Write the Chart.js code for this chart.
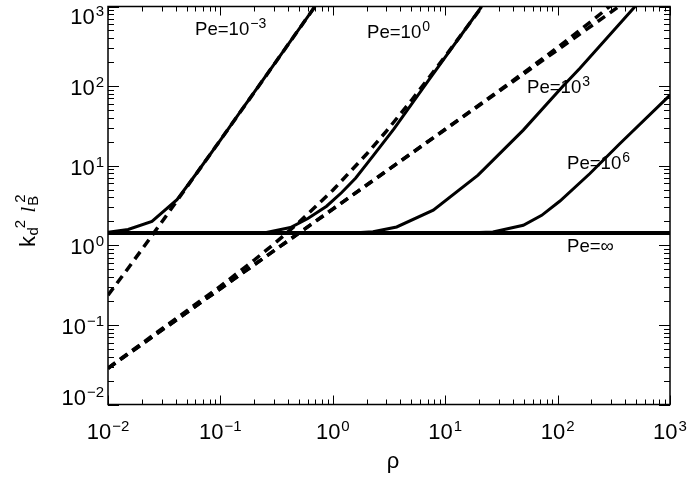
<!DOCTYPE html>
<html lang="en">
<head>
  <meta charset="UTF-8">
  <title>k_d^2 l_B^2 vs rho</title>
  <script src="https://cdn.jsdelivr.net/npm/chart.js"></script>
  <style>body{margin:0;background:#fff}</style>
</head>
<body>
  <canvas id="grafico" width="691" height="478"></canvas>

  <script>
    // values (rho, k_d^2 l_B^2)
    const rhoInf = [0.01, 1000];
    const kInf = [1.43, 1.43];

    const rhoPeM3 = [0.01, 0.0151, 0.0246, 0.0411, 0.06, 0.1, 0.149, 0.3, 0.695];
    const kPeM3 = [1.457, 1.58, 2.0, 3.75, 7.7, 21.0, 46.7, 187, 1000];

    const rhoPe0 = [0.01, 0.25, 0.42, 0.6, 0.88, 1.2, 1.6, 2.3, 3.5, 6.8, 21.1];
    const kPe0 = [1.43, 1.44, 1.67, 2.17, 3.1, 4.6, 7.0, 13.5, 29, 108, 1000];

    const rhoPe3 = [0.01, 1.5, 2.28, 3.7, 7.83, 19.6, 49.5, 114, 158, 489];
    const kPe3 = [1.43, 1.43, 1.48, 1.70, 2.76, 7.6, 28, 103, 168, 1000];

    const rhoPe6 = [0.01, 15, 26.6, 49.5, 72.2, 105, 194, 359, 1000];
    const kPe6 = [1.43, 1.43, 1.47, 1.785, 2.38, 3.6, 7.98, 19.0, 77.1];

    // dashed asymptotes
    const rhoAsM3 = [0.01, 0.015, 0.02, 0.03, 0.1, 0.3, 1];
    const kAsM3 = [0.2355, 0.508, 0.885, 1.95, 21.0, 187, 2073];

    const rhoAs0 = [0.01, 0.1, 0.2, 0.3, 0.5, 1, 2, 3, 5, 10, 20, 30];
    const kAs0 = [0.0287, 0.306, 0.653, 1.04, 1.94, 4.92, 14.0, 27.2, 66.0, 236, 885, 1950];

    const rhoAs3 = [0.01, 1, 10, 30, 50, 100, 200, 300];
    const kAs3 = [0.0285, 2.85, 28.7, 87.4, 147.7, 306, 653, 1041];

    const rhoAs6 = [0.01, 1000];
    const kAs6 = [0.0285, 2852];

    // axis decades
    const xTickExp = [-2, -1, 0, 1, 2, 3];
    const yTickExp = [-2, -1, 0, 1, 2, 3];

    // curve labels: text, exponent
    const curveNames = ['Pe=10', 'Pe=10', 'Pe=10', 'Pe=10', 'Pe=\u221E'];
    const curveExps = ['\u22123', '0', '3', '6', ''];

    const pts = (xs, ys) => xs.map((v, i) => ({ x: v, y: ys[i] }));

    const solid = (xs, ys, w) => ({
      data: pts(xs, ys), showLine: true, borderColor: '#000', borderWidth: w,
      pointRadius: 0, fill: false, tension: 0
    });
    const dashed = (xs, ys) => ({
      data: pts(xs, ys), showLine: true, borderColor: '#000', borderWidth: 3.5,
      borderDash: [9, 6], pointRadius: 0, fill: false, tension: 0
    });

    const FONT = '"Liberation Sans", Arial, sans-serif';

    // draws "10" + superscript; returns nothing
    function drawPow(ctx, base, exp, xpos, baseline, align, size, supSize, raise) {
      ctx.font = size + 'px ' + FONT;
      const wb = ctx.measureText(base).width;
      ctx.font = supSize + 'px ' + FONT;
      const we = exp ? ctx.measureText(exp).width + 1 : 0;
      const total = wb + we;
      let x0 = xpos;
      if (align === 'center') x0 = xpos - total / 2;
      if (align === 'right') x0 = xpos - total;
      ctx.textAlign = 'left';
      ctx.textBaseline = 'alphabetic';
      ctx.font = size + 'px ' + FONT;
      ctx.fillText(base, x0, baseline);
      if (exp) {
        ctx.font = supSize + 'px ' + FONT;
        ctx.fillText(exp, x0 + wb + 1, baseline - raise);
      }
    }

    const decor = {
      id: 'decor',
      afterDatasetsDraw(chart) {
        const { ctx, chartArea: a, scales } = chart;
        const sx = scales.x, sy = scales.y;
        ctx.save();
        ctx.fillStyle = '#000';
        ctx.strokeStyle = '#000';

        // frame
        ctx.lineWidth = 1.5;
        ctx.strokeRect(a.left, a.top, a.right - a.left, a.bottom - a.top);

        // tick marks (inward, all sides)
        ctx.lineWidth = 1;
        ctx.beginPath();
        xTickExp.forEach((e, i) => {
          for (let m = 1; m <= 9; m++) {
            if (m > 1 && i === xTickExp.length - 1) break;
            const px = Math.round(sx.getPixelForValue(m * Math.pow(10, e))) + 0.5;
            const L = m === 1 ? 9 : 5;
            ctx.moveTo(px, a.bottom); ctx.lineTo(px, a.bottom - L);
            ctx.moveTo(px, a.top); ctx.lineTo(px, a.top + L);
          }
        });
        yTickExp.forEach((e, i) => {
          for (let m = 1; m <= 9; m++) {
            if (m > 1 && i === yTickExp.length - 1) break;
            const py = Math.round(sy.getPixelForValue(m * Math.pow(10, e))) + 0.5;
            const L = m === 1 ? 11 : 6;
            ctx.moveTo(a.left, py); ctx.lineTo(a.left + L, py);
            ctx.moveTo(a.right, py); ctx.lineTo(a.right - L, py);
          }
        });
        ctx.stroke();

        // tick labels
        xTickExp.forEach(e => {
          const px = sx.getPixelForValue(Math.pow(10, e));
          const ex = e < 0 ? '\u2212' + (-e) : String(e);
          drawPow(ctx, '10', ex, px, a.bottom + 34, 'center', 22, 15, 8);
        });
        yTickExp.forEach(e => {
          const py = sy.getPixelForValue(Math.pow(10, e));
          const ex = e < 0 ? '\u2212' + (-e) : String(e);
          const base = Math.min(Math.max(py + 9, a.top + 17), a.bottom + 0.5);
          drawPow(ctx, '10', ex, a.left - 4, base, 'right', 22, 15, 8);
        });

        // curve labels
        const labelPos = [[195, 35], [367, 38], [527, 93], [567, 169], [567, 252]];
        curveNames.forEach((t, i) => {
          drawPow(ctx, t, curveExps[i], labelPos[i][0], labelPos[i][1], 'left', 18.6, 14, 7);
        });

        // x title
        ctx.font = '22px ' + FONT;
        ctx.textAlign = 'center';
        ctx.fillText('\u03C1', 393, 468);

        // y title: k_d^2 l_B^2, rotated
        ctx.translate(35, 210);
        ctx.rotate(-Math.PI / 2);
        ctx.textAlign = 'left';
        let u = -37;
        ctx.font = '22px ' + FONT;
        ctx.fillText('k', u, 0);
        u += ctx.measureText('k').width + 0.5;
        ctx.font = '15px ' + FONT;
        ctx.fillText('d', u, 3);
        u += ctx.measureText('d').width - 1;
        ctx.fillText('2', u, -10);
        u += ctx.measureText('2').width + 7;
        ctx.font = 'italic 22px "Liberation Serif", serif';
        ctx.fillText('l', u, 0);
        u += ctx.measureText('l').width + 1;
        ctx.font = '15px ' + FONT;
        ctx.fillText('B', u, 3);
        ctx.fillText('2', u + 3, -10);
        ctx.restore();
      }
    };

    new Chart(document.getElementById('grafico').getContext('2d'), {
      type: 'scatter',
      data: {
        datasets: [
          solid(rhoInf, kInf, 4),
          solid(rhoPeM3, kPeM3, 3),
          solid(rhoPe0, kPe0, 3),
          solid(rhoPe3, kPe3, 3),
          solid(rhoPe6, kPe6, 3),
          dashed(rhoAsM3, kAsM3),
          dashed(rhoAs0, kAs0),
          dashed(rhoAs3, kAs3),
          dashed(rhoAs6, kAs6)
        ]
      },
      options: {
        responsive: false,
        animation: false,
        events: [],
        layout: { padding: { left: 108, right: 21, top: 6.5, bottom: 73.5 } },
        plugins: { legend: { display: false }, tooltip: { enabled: false } },
        scales: {
          x: { type: 'logarithmic', min: 0.01, max: 1000, display: false },
          y: { type: 'logarithmic', min: 0.01, max: 1000, display: false }
        }
      },
      plugins: [decor]
    });
  </script>
</body>
</html>
